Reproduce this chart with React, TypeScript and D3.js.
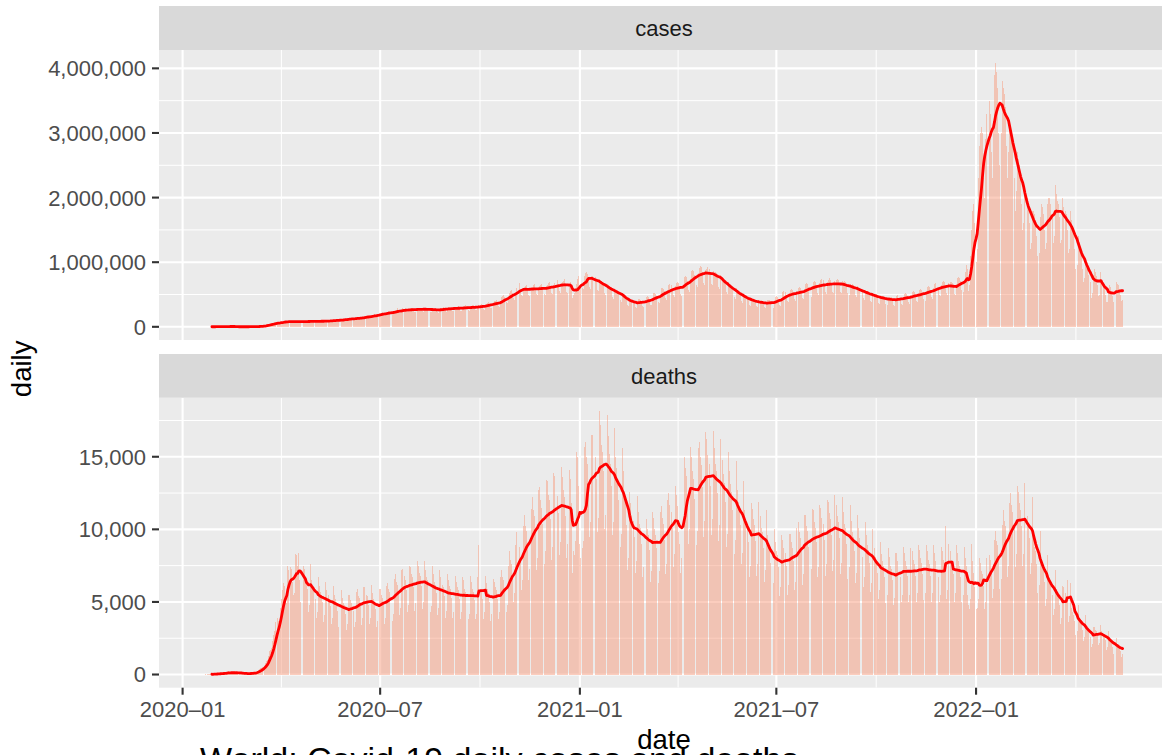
import React from 'react';
import * as d3 from 'd3';

// ---------------- DATA ----------------
const START_DATE = '2020-01-22';
const CASES_UNIT = 1000;

// daily new cases (thousands), one row per week (Wed..Tue)
const CASES_K: number[] = [
  0.6,0.1,0.3,0.5,0.7,0.8,1.8,
  1.5,2.0,2.1,2.6,2.8,3.2,3.9,
  3.7,3.2,3.4,2.7,2.6,2.0,2.1,
  2.0,15.1,6.5,2.1,2.6,2.0,1.9,
  0.6,0.6,1.0,0.6,0.9,0.6,0.8,
  0.9,1.3,1.0,1.8,1.7,1.8,2.0,
  2.6,2.7,3.9,4.1,3.9,3.9,4.4,
  7.5,8.0,10.0,10.8,11.5,14.0,16.0,
  28,34,38,36,40,47,50,
  52,62,66,62,60,59,66,
  74,79,84,83,78,71,74,
  83,87,88,84,77,72,76,
  81,90,85,83,78,72,75,
  84,85,87,89,82,75,79,
  84,90,94,89,80,74,78,
  88,95,97,92,80,76,85,
  92,100,102,98,89,85,95,
  100,110,113,105,96,90,102,
  112,122,128,122,107,100,115,
  130,135,140,134,115,110,128,
  143,146,148,145,126,124,142,
  165,170,172,165,140,136,168,
  182,188,196,188,163,158,185,
  210,215,228,215,182,180,208,
  235,238,240,236,200,195,226,
  258,260,284,255,220,210,245,
  285,282,290,270,228,222,262,
  288,290,292,274,235,228,270,
  290,295,298,278,240,232,275,
  286,290,296,272,232,226,274,
  278,282,288,266,228,220,272,
  292,298,300,282,238,230,285,
  300,308,312,292,246,240,295,
  305,314,318,296,250,245,302,
  312,322,330,305,256,250,310,
  320,330,338,312,262,255,318,
  335,345,355,330,275,268,335,
  360,372,385,355,298,288,360,
  392,405,418,385,322,312,392,
  455,475,490,455,380,365,460,
  530,552,570,525,440,420,530,
  600,620,680,592,495,470,600,
  610,632,650,600,500,480,610,
  615,640,655,605,505,485,615,
  625,650,665,610,510,490,625,
  650,675,690,632,530,505,650,
  675,705,720,660,550,525,680,
  690,715,735,655,545,520,660,
  700,620,450,500,520,540,660,
  740,780,580,640,600,590,780,
  830,845,820,770,610,590,790,
  780,795,770,720,575,548,745,
  695,710,690,640,520,490,665,
  620,625,612,575,460,436,590,
  548,565,552,505,412,388,528,
  455,460,448,420,335,318,437,
  410,415,405,380,300,290,395,
  425,435,420,395,315,300,405,
  460,472,465,430,342,330,445,
  520,528,515,480,385,365,500,
  595,608,590,552,440,420,575,
  650,660,652,600,485,458,625,
  675,690,678,630,505,478,650,
  770,785,772,712,575,545,745,
  870,884,870,805,650,615,838,
  918,935,920,850,685,652,885,
  900,920,902,838,670,640,870,
  835,852,838,775,622,592,805,
  715,730,712,665,532,508,690,
  618,628,615,570,460,435,595,
  530,538,526,490,395,372,510,
  462,472,460,428,345,326,446,
  425,430,422,395,315,302,408,
  405,410,402,375,300,287,390,
  412,420,415,382,307,292,398,
  460,470,463,430,345,328,444,
  540,548,538,500,402,383,520,
  572,584,570,532,425,405,552,
  605,615,606,560,452,430,582,
  660,672,658,612,493,468,637,
  698,712,700,647,520,496,672,
  720,735,720,668,538,510,695,
  732,748,732,680,545,520,705,
  728,742,726,676,542,517,703,
  694,705,692,643,516,492,668,
  650,660,648,602,485,460,626,
  594,606,593,550,443,422,572,
  545,555,544,505,406,386,524,
  500,510,502,464,373,355,482,
  473,482,474,438,352,336,455,
  460,468,459,427,342,326,444,
  478,488,480,443,357,340,460,
  506,516,505,470,377,358,488,
  540,548,538,500,402,382,520,
  572,583,571,530,427,405,552,
  616,628,615,572,459,436,594,
  665,678,667,617,496,472,641,
  699,712,698,648,520,495,673,
  686,700,685,637,511,487,662,
  758,773,760,703,566,539,731,
  850,950,900,560,650,1100,1500,
  1800,1900,1600,1000,1200,2300,2800,
  3000,3100,3000,2300,2000,2900,3300,
  3400,3500,3300,2700,2300,3100,3900,
  4080,3950,3700,3000,2500,3000,3800,
  3700,3600,3400,2800,2300,2700,3200,
  3100,3000,2800,2300,1800,2100,2700,
  2600,2500,2300,1900,1500,1600,2100,
  2100,2000,1900,1600,1200,1300,1800,
  1800,1750,1650,1400,1100,1150,1700,
  1900,1850,1750,1500,1200,1300,1900,
  2000,2000,1900,1700,1300,1400,2200,
  2050,1950,1900,1700,1300,1350,2000,
  1850,1800,1750,1500,1150,1200,1800,
  1650,1550,1450,1200,900,950,1400,
  1300,1200,1100,900,700,750,1050,
  1000,950,800,700,450,520,800,
  900,850,780,650,480,500,850,
  700,660,580,500,380,390,580,
  640,620,560,480,380,420,700,
  660,640,590,500,400,420,
];

// daily new deaths, one row per week (Wed..Tue)
const DEATHS: number[] = [
  17,1,8,16,14,26,49,
  2,38,42,46,45,64,66,
  73,73,86,89,97,108,97,
  254,13,143,142,106,98,139,
  115,118,109,97,150,71,64,
  38,60,65,58,70,72,80,
  85,100,110,120,140,180,240,
  300,350,420,420,500,600,780,
  900,1000,1300,1600,1700,1800,2300,
  2700,3000,3600,3900,3700,3600,4600,
  5200,5800,6300,6100,5200,4900,7500,
  7200,7400,7300,6400,5500,5600,8300,
  8200,7500,8400,6500,5000,4800,7500,
  7300,6800,6600,5900,4300,4800,7600,
  6500,6100,5800,5200,3900,4300,6700,
  6100,5700,5500,5000,3600,4100,6400,
  5800,5500,5200,4700,3500,3900,6100,
  5500,5200,5000,4400,3300,3700,5800,
  5300,4900,4800,4200,3100,3500,5500,
  5500,5100,4900,4400,3300,3600,5700,
  5900,5400,5300,4700,3400,3900,6000,
  6000,5500,5400,4800,3500,3900,6200,
  5600,5200,5000,4500,3300,3700,5900,
  5900,5500,5300,4800,3500,3900,6100,
  6300,5900,5700,5100,3700,4200,6600,
  6900,6400,6200,5600,4100,4600,7200,
  7300,6800,6500,5800,4300,4800,7500,
  7400,6900,6700,6000,4400,4900,7800,
  7500,7000,6800,6100,4500,5000,7800,
  7200,6700,6500,5800,4300,4700,7500,
  6900,6400,6200,5600,4100,4600,7200,
  6700,6200,6000,5400,3900,4400,6900,
  6500,6100,5900,5300,3900,4300,6800,
  6400,6000,5800,5200,3800,4300,6700,
  6500,5900,5700,5200,3800,4200,6800,
  6400,5900,5700,5100,3800,4200,6700,
  8900,5900,5800,5200,3800,4300,6800,
  6300,5900,5600,5000,3700,4200,6600,
  6400,6000,5800,5200,3800,4300,6700,
  7200,6700,6500,5800,4300,4800,7500,
  8500,7900,7600,6800,5000,5600,8900,
  9800,9100,8800,7900,5800,6500,10200,
  11000,10200,9900,8800,6500,7300,11400,
  12200,11300,10900,9800,7200,8000,12700,
  12900,12000,11500,10400,7600,8500,13400,
  13300,12400,12000,10700,7900,8800,13900,
  13700,12800,12300,11100,8200,9100,14300,
  13600,12700,12200,10900,8000,9000,14100,
  13500,11800,7000,8500,8200,9200,15300,
  15000,13000,9000,8000,8700,9200,15700,
  16000,15000,14500,12500,9500,10500,16500,
  16500,15500,15000,13500,9800,10800,18160,
  17200,15800,15300,14000,10000,11000,17880,
  16400,15200,14500,13000,9600,10500,17000,
  15000,14200,13500,12000,8800,9700,15600,
  14000,12500,11800,10300,7200,8000,12600,
  11800,11000,10600,9500,7000,7800,12300,
  11200,10400,10100,9000,6700,7400,11700,
  10700,10000,9600,8600,6400,7100,11200,
  10800,10000,9600,8700,6300,7100,11200,
  11600,10800,10400,9300,6900,7600,12000,
  12500,11700,11200,10100,7400,8300,13000,
  12400,11600,9800,9000,7000,8000,13600,
  15000,14200,13700,12200,9000,10000,15700,
  15000,14000,13500,12100,8900,9900,15600,
  16000,15000,14400,12900,9500,10600,16700,
  16200,15100,14500,13000,9600,10700,16800,
  15600,14500,14000,12500,9200,10300,16200,
  14800,13800,13200,11900,8800,9700,15300,
  14000,13100,12600,11300,8300,9300,14700,
  12700,11900,11500,10300,7600,8400,13300,
  11300,10600,10200,9100,6700,7500,11800,
  11400,10700,10300,9200,6800,7600,11900,
  10900,10100,9800,8700,6400,7200,11300,
  9600,8900,8600,7700,5700,6300,10000,
  9100,8500,8200,7400,5400,6000,9600,
  9300,8700,8400,7500,5500,6200,9700,
  9700,9100,8700,7800,5800,6400,10100,
  10500,9800,9400,8500,6200,6900,11000,
  11000,10200,9900,8800,6500,7300,11400,
  11300,10500,10100,9100,6700,7400,11700,
  11500,10800,10400,9300,6800,7600,12000,
  11900,11100,10700,9600,7100,7900,12400,
  11700,10900,10500,9400,6900,7700,12200,
  11200,10400,10100,9000,6600,7400,11700,
  10600,9800,9500,8500,6300,7000,11000,
  10100,9400,9100,8100,6000,6700,10500,
  9600,8900,8600,7700,5700,6300,10000,
  8700,8100,7800,7000,5200,5800,9100,
  8300,7800,7500,6700,4900,5500,8700,
  8100,7500,7300,6500,4800,5300,8400,
  8400,7800,7500,6700,5000,5500,8800,
  8400,7800,7500,6800,5000,5500,8700,
  8500,7900,7600,6800,5000,5600,8900,
  8600,8000,7700,6900,5100,5600,8900,
  8500,7900,7600,6800,5000,5600,8900,
  8400,7800,7500,6700,5000,5500,8800,
  8500,7900,7600,10200,5200,5800,9000,
  8500,7900,7600,6900,5000,5600,8900,
  8400,7800,7500,6700,5000,5500,8800,
  8000,7500,5500,4800,4500,5200,9000,
  7800,7000,6000,4500,4600,5200,8000,
  7700,7100,6900,6100,4500,5000,8000,
  8900,8200,7900,7100,5300,5900,9300,
  9900,9200,8900,8000,5900,6600,10300,
  11300,10600,10200,9100,6700,7500,11800,
  12500,11700,11200,10100,7400,8300,13000,
  12600,11800,11300,10200,7500,8300,13200,
  11700,10900,10500,9400,6900,7700,12200,
  9400,8800,8500,7600,5600,6200,9900,
  7900,7400,7100,6400,4700,5200,8200,
  6800,6400,6100,5500,4100,4500,7200,
  5900,5500,5300,4800,3500,3900,6100,
  6000,5600,5400,6500,3600,4000,6300,
  4600,4300,4100,3700,2700,3000,4800,
  3900,3600,3500,3100,2300,2600,4100,
  3200,3000,2900,2600,1900,2100,3300,
  3300,3100,3000,2700,2000,2200,3400,
  3000,2800,2700,2400,1700,1900,3000,
  2400,2300,2200,1900,1400,1600,2500,
  2100,1900,1800,1600,1200,1400,
];

const FACET_NAMES = ['cases', 'deaths'];
const CASES_TICKS = [0, 1000000, 2000000, 3000000, 4000000];
const DEATHS_TICKS = [0, 5000, 10000, 15000];
const X_TICKS = ['2020-01-01', '2020-07-01', '2021-01-01', '2021-07-01', '2022-01-01'];
const ROLL_WINDOW = 7;
const X_TITLE = 'date';
const Y_TITLE = 'daily';
const CAPTION = 'World: Covid-19 daily cases and deaths';

// ---------------- LAYOUT / STYLE ----------------
const W = 1162;
const H = 755;
const PANEL_LEFT = 159;
const PANEL_RIGHT = 1169;
const LAYOUT = [
  { stripTop: 6, stripBottom: 50, panelTop: 50, panelBottom: 340 },
  { stripTop: 354, stripBottom: 397.7, panelTop: 397.7, panelBottom: 687.7 },
];
const FONT = '"Liberation Sans", Arial, Helvetica, sans-serif';
const BAR_FILL = 'rgb(247,155,125)';
const BAR_OPACITY = 0.5;
const DAY = 864e5;

function rollMean(arr: number[], k: number): (number | null)[] {
  return arr.map((_, i) => (i < k - 1 ? null : (d3.mean(arr.slice(i - k + 1, i + 1)) as number)));
}

export default function App() {
  const n = CASES_K.length;
  const start = new Date(START_DATE + 'T00:00:00Z').getTime();
  const dates = d3.range(n).map((i) => new Date(start + i * DAY));
  const span = n - 1 + 0.9;
  const pad = 0.45 + 0.05 * span;
  const x = d3
    .scaleUtc()
    .domain([new Date(start - pad * DAY), new Date(start + (n - 1 + pad) * DAY)])
    .range([PANEL_LEFT, PANEL_RIGHT]);
  const pxDay = x(new Date(start + DAY)) - x(new Date(start));
  const barW = 0.9 * pxDay;

  const xMajor = X_TICKS.map((s) => new Date(s + 'T00:00:00Z'));
  const xDom = x.domain().map((d) => d.getTime());
  const xMinorRaw: number[] = [];
  for (let i = 0; i < xMajor.length - 1; i++) xMinorRaw.push((xMajor[i].getTime() + xMajor[i + 1].getTime()) / 2);
  xMinorRaw.push(xMajor[0].getTime() - (xMajor[1].getTime() - xMajor[0].getTime()) / 2);
  const L = xMajor.length;
  xMinorRaw.push(xMajor[L - 1].getTime() + (xMajor[L - 1].getTime() - xMajor[L - 2].getTime()) / 2);
  const xMinor = xMinorRaw.filter((t) => t >= xDom[0] && t <= xDom[1]);

  const series = [CASES_K.map((v) => v * CASES_UNIT), DEATHS];
  const tickSets = [CASES_TICKS, DEATHS_TICKS];
  const fmt = d3.format(',');
  const xFmt = (d: Date) => d3.utcFormat('%Y-%m')(d).replace('-', '\u2013');

  const facets = series.map((vals, fi) => {
    const lay = LAYOUT[fi];
    const max = d3.max(vals) as number;
    const y = d3
      .scaleLinear()
      .domain([0 - 0.05 * max, max * 1.05])
      .range([lay.panelBottom, lay.panelTop]);
    const ticks = tickSets[fi];
    const step = ticks[1] - ticks[0];
    const minors = [ticks[0] - step / 2, ...ticks.map((t) => t + step / 2)].filter(
      (t) => t >= y.domain()[0] && t <= y.domain()[1]
    );
    const rolled = rollMean(vals, ROLL_WINDOW);
    const line = d3
      .line<number | null>()
      .defined((d) => d !== null)
      .x((_, i) => x(dates[i]))
      .y((d) => y(d as number));
    return { name: FACET_NAMES[fi], lay, y, ticks, minors, vals, path: line(rolled) || '' };
  });

  return (
    <svg
      width={W}
      height={H}
      style={{ position: 'absolute', left: 0, top: 0, background: '#fff' }}
      fontFamily={FONT}
    >
      <defs>
        {facets.map((f, i) => (
          <clipPath id={`clip${i}`} key={i}>
            <rect x={PANEL_LEFT} y={f.lay.panelTop} width={PANEL_RIGHT - PANEL_LEFT} height={f.lay.panelBottom - f.lay.panelTop} />
          </clipPath>
        ))}
      </defs>
      {facets.map((f, fi) => {
        const { lay, y } = f;
        return (
          <g key={fi}>
            <rect x={PANEL_LEFT} y={lay.panelTop} width={PANEL_RIGHT - PANEL_LEFT} height={lay.panelBottom - lay.panelTop} fill="#EBEBEB" />
            <g clipPath={`url(#clip${fi})`}>
              {f.minors.map((t, i) => (
                <line key={'ym' + i} x1={PANEL_LEFT} x2={PANEL_RIGHT} y1={y(t)} y2={y(t)} stroke="#fff" strokeWidth={1} />
              ))}
              {xMinor.map((t, i) => (
                <line key={'xm' + i} x1={x(new Date(t))} x2={x(new Date(t))} y1={lay.panelTop} y2={lay.panelBottom} stroke="#fff" strokeWidth={1} />
              ))}
              {f.ticks.map((t, i) => (
                <line key={'yM' + i} x1={PANEL_LEFT} x2={PANEL_RIGHT} y1={y(t)} y2={y(t)} stroke="#fff" strokeWidth={2.1} />
              ))}
              {xMajor.map((d, i) => (
                <line key={'xM' + i} x1={x(d)} x2={x(d)} y1={lay.panelTop} y2={lay.panelBottom} stroke="#fff" strokeWidth={2.1} />
              ))}
              <g fill={BAR_FILL} fillOpacity={BAR_OPACITY} shapeRendering="crispEdges">
                {f.vals.map((v, i) => {
                  const y0 = y(0);
                  const y1 = y(v);
                  return <rect key={i} x={x(dates[i]) - barW / 2} width={barW} y={Math.min(y0, y1)} height={Math.abs(y0 - y1)} />;
                })}
              </g>
              <path d={f.path} fill="none" stroke="#FF0000" strokeWidth={2.8} strokeLinejoin="round" strokeLinecap="round" />
            </g>
            {/* strip */}
            <rect x={PANEL_LEFT} y={lay.stripTop} width={PANEL_RIGHT - PANEL_LEFT} height={lay.stripBottom - lay.stripTop} fill="#D9D9D9" />
            <text
              x={(PANEL_LEFT + PANEL_RIGHT) / 2}
              y={(lay.stripTop + lay.stripBottom) / 2}
              dy="0.36em"
              textAnchor="middle"
              fontSize={22}
              fill="#1A1A1A"
            >
              {f.name}
            </text>
            {/* y axis */}
            {f.ticks.map((t, i) => (
              <g key={'yt' + i}>
                <line x1={PANEL_LEFT - 7} x2={PANEL_LEFT} y1={y(t)} y2={y(t)} stroke="#333333" strokeWidth={2.1} />
                <text x={PANEL_LEFT - 13} y={y(t)} dy="0.36em" textAnchor="end" fontSize={22} fill="#4D4D4D">
                  {fmt(t)}
                </text>
              </g>
            ))}
          </g>
        );
      })}
      {/* x axis (bottom panel only) */}
      {xMajor.map((d, i) => (
        <g key={'xt' + i}>
          <line x1={x(d)} x2={x(d)} y1={LAYOUT[1].panelBottom} y2={LAYOUT[1].panelBottom + 7} stroke="#333333" strokeWidth={2.1} />
          <text x={x(d)} y={717} textAnchor="middle" fontSize={22} fill="#4D4D4D">
            {xFmt(d)}
          </text>
        </g>
      ))}
      <text x={(PANEL_LEFT + PANEL_RIGHT) / 2} y={749} textAnchor="middle" fontSize={27.5} fill="#000">
        {X_TITLE}
      </text>
      <text transform={`translate(31,${(LAYOUT[0].panelTop + LAYOUT[1].panelBottom) / 2}) rotate(-90)`} textAnchor="middle" fontSize={27.5} fill="#000">
        {Y_TITLE}
      </text>
      <text x={200} y={771} fontSize={34} fill="#000">
        {CAPTION}
      </text>
    </svg>
  );
}
